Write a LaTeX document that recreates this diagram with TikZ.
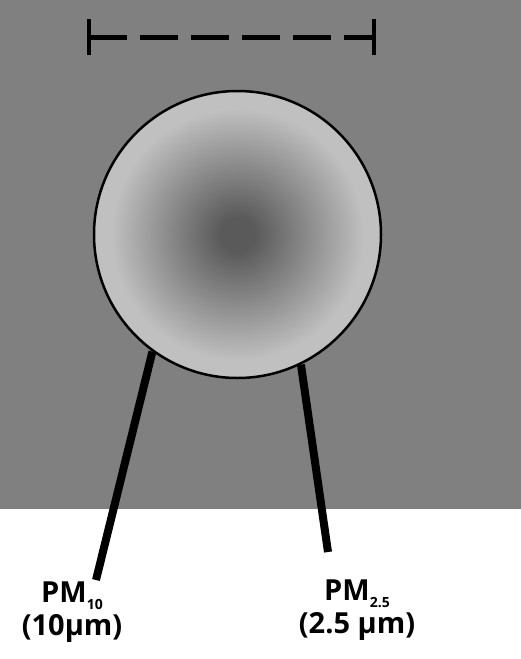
\documentclass[tikz,border=0pt]{standalone}
\usepackage{fontspec}
\setmainfont{Open Sans}
\usetikzlibrary{positioning}

\definecolor{bggray}{HTML}{808080}
\definecolor{coregray}{HTML}{5A5A5A}
\definecolor{rimgray}{HTML}{C0C0C0}
\pgfdeclareradialshading{particleshade}{\pgfpoint{0bp}{0bp}}{color(0bp)=(coregray); color(3bp)=(coregray); color(22bp)=(rimgray); color(50bp)=(rimgray)}

\newcommand{\pmsub}[1]{\raisebox{-7pt}{\fontsize{14}{14}\selectfont #1}}

\tikzset{
  pmlabel/.style={align=center, inner sep=0pt, font=\fontsize{29}{33}\selectfont\bfseries},
  pmline/.style={line width=8pt}
}

\begin{document}
\begin{tikzpicture}[x=1pt,y=-1pt]
  % pixel grid of the reference, y counted downwards
  \useasboundingbox (0,0) rectangle (521,659);
  \fill[bggray] (0,0) rectangle (521,509);

  % scale bar
  \coordinate (barL) at (89,37);
  \coordinate (barR) at (374,37);
  \draw[line width=5pt, dash pattern=on 38pt off 13pt] (barL) -- (barR);
  \foreach \e in {barL,barR}
    \draw[line width=4pt] ([yshift=-18pt]\e) -- ([yshift=18pt]\e);

  % particle
  \node[circle, draw, line width=2.5pt, minimum size=287pt, inner sep=0pt, shading=particleshade] (particle) at (237.5,234.5) {};

  % labels and pointers
  \node[pmlabel] (pm10) at (72,612) {PM\pmsub{10}\\(10µm)};
  \node[pmlabel] (pm25) at (357,610) {PM\pmsub{2.5}\\(2.5 µm)};
  \coordinate (end10) at (96,580);
  \coordinate (end25) at (328,552);
  \draw[pmline] (particle.234) -- (end10);
  \draw[pmline] (particle.296) -- (end25);
\end{tikzpicture}
\end{document}
